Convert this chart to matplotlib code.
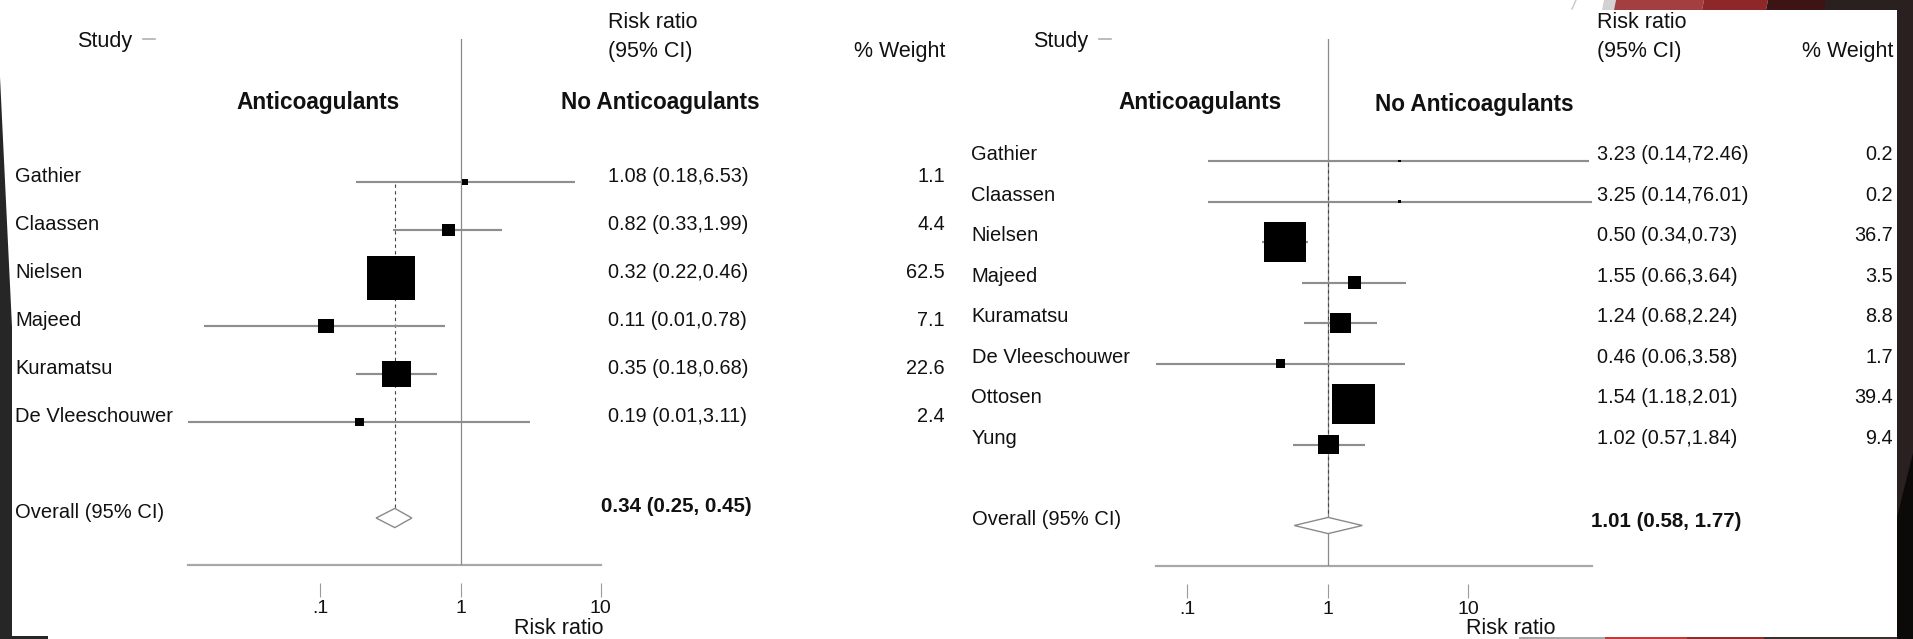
import numpy as np
import matplotlib
matplotlib.use("Agg")
import matplotlib.pyplot as plt
from matplotlib.path import Path
from matplotlib.patches import Polygon
from matplotlib.lines import Line2D
from matplotlib.ticker import NullLocator
from matplotlib import transforms

plt.rcParams['font.family'] = ['Liberation Sans', 'DejaVu Sans']

# ---------------- data ----------------
TICKS = [0.1, 1, 10]
TICK_LABELS = [".1", "1", "10"]

left_studies = ["Gathier", "Claassen", "Nielsen", "Majeed", "Kuramatsu", "De Vleeschouwer"]
left_rr = [1.08, 0.82, 0.32, 0.11, 0.35, 0.19]
left_lo = [0.18, 0.33, 0.22, 0.0148, 0.18, 0.0113]
left_hi = [6.53, 1.99, 0.46, 0.78, 0.68, 3.11]
left_weight = [1.1, 4.4, 62.5, 7.1, 22.6, 2.4]
left_overall = [0.34, 0.25, 0.45]

right_studies = ["Gathier", "Claassen", "Nielsen", "Majeed", "Kuramatsu",
                 "De Vleeschouwer", "Ottosen", "Yung"]
right_rr = [3.23, 3.25, 0.50, 1.55, 1.24, 0.46, 1.54, 1.02]
right_lo = [0.14, 0.14, 0.34, 0.66, 0.68, 0.06, 1.18, 0.57]
right_hi = [72.46, 76.01, 0.73, 3.64, 2.24, 3.58, 2.01, 1.84]
right_weight = [0.2, 0.2, 36.7, 3.5, 8.8, 1.7, 39.4, 9.4]
right_overall = [1.01, 0.58, 1.77]

# ---------------- figure ----------------
W, H = 1913, 639
fig = plt.figure(figsize=(W / 100, H / 100), dpi=100)
fig.patch.set_facecolor("white")


def fx(px):
    return px / W


def fy(py):
    return 1 - py / H


def P(x, y):
    return (fx(x), fy(y))


PT = 0.72  # points per pixel at 100 dpi
TXT = "#111111"
GREY_CI = "#8e8e8e"


def draw_panel(g, studies, rr, lo, hi, weight, overall):
    xmin = min(min(lo), min(TICKS))
    xmax = max(max(hi), max(TICKS))
    px_lo = g["x_one"] + g["ppd"] * np.log10(xmin)
    px_hi = g["x_one"] + g["ppd"] * np.log10(xmax)
    n = len(studies)
    rows = np.arange(n)
    y_over = n + 1
    y_top = (g["top"] - g["row0"]) / g["step"]
    y_bot = (g["bottom"] - g["row0"]) / g["step"]

    ax = fig.add_axes([fx(px_lo), fy(g["bottom"]), fx(px_hi) - fx(px_lo),
                       (g["bottom"] - g["top"]) / H])
    ax.set_xscale("log")
    ax.set_xlim(xmin, xmax)
    ax.set_ylim(y_bot, y_top)
    ax.patch.set_visible(False)
    for s in ["top", "right", "left", "bottom"]:
        ax.spines[s].set_visible(False)
    ax.spines["bottom"].set_position(("outward", 18 * PT))
    ax.set_yticks([])
    ax.set_xticks(TICKS)
    ax.set_xticklabels(TICK_LABELS)
    ax.xaxis.set_minor_locator(NullLocator())
    ax.tick_params(axis="x", direction="out", length=14 * PT, width=0.8,
                   color="#9a9a9a", pad=3 * PT, labelsize=14, labelcolor=TXT)

    # horizontal axis line and line of no effect
    ax.axhline(y_bot, color="#a8a8a8", lw=2.2 * PT, clip_on=False, zorder=1)
    ax.axvline(1, color="#8a8a8a", lw=0.9, zorder=1)

    # pooled estimate reference line
    est, o_lo, o_hi = overall
    ax.plot([est, est], [0.05, y_over - 0.2], color="#444444", lw=0.8,
            ls=(0, (3, 3)), zorder=1)

    # confidence intervals
    ax.hlines(rows, lo, hi, color=GREY_CI, lw=1.55, zorder=2)

    # weighted boxes
    bw, bh = g["box_w"], g["box_h"]
    box = Path([(-bw / 2, -bh / 2), (bw / 2, -bh / 2), (bw / 2, bh / 2),
                (-bw / 2, bh / 2), (-bw / 2, -bh / 2)],
               [Path.MOVETO, Path.LINETO, Path.LINETO, Path.LINETO, Path.CLOSEPOLY])
    side_px = max(bw, bh) * np.sqrt(np.asarray(weight))
    ax.scatter(rr, rows, s=(side_px * PT) ** 2, marker=box, c="black",
               linewidths=0, zorder=3)

    # pooled diamond
    dh = 0.2
    ax.add_patch(Polygon([(o_lo, y_over), (est, y_over - dh), (o_hi, y_over),
                          (est, y_over + dh)], closed=True, facecolor="white",
                         edgecolor="#8a8a8a", lw=1.0, zorder=3))

    # text columns
    tr = transforms.blended_transform_factory(fig.transFigure, ax.transData)
    dy = g["txt_dy"]
    for i, name in enumerate(studies):
        ax.text(fx(g["label_x"]), i - dy, name, transform=tr, ha="left",
                va="center", fontsize=14.5, color=TXT)
        ax.text(fx(g["ci_x"]), i - dy, f"{rr[i]:.2f} ({lo[i]:.2f},{hi[i]:.2f})",
                transform=tr, ha="left", va="center", fontsize=14.3, color=TXT)
        ax.text(fx(g["wt_x"]), i - dy, f"{weight[i]:.1f}", transform=tr,
                ha="right", va="center", fontsize=14.3, color=TXT)
    ax.text(fx(g["label_x"]), y_over - dy, "Overall (95% CI)", transform=tr,
            ha="left", va="center", fontsize=14.5, color=TXT)
    ax.text(fx(g["oci_x"]), y_over - g["oci_dy"],
            f"{est:.2f} ({o_lo:.2f}, {o_hi:.2f})", transform=tr, ha="left",
            va="center", fontsize=14.8, fontweight="bold", color=TXT)

    # column headings
    fig.text(fx(g["study_x"]), fy(42), "Study", ha="left", va="center",
             fontsize=15.5, color=TXT)
    fig.add_artist(Line2D([fx(g["study_x"] + 66), fx(g["study_x"] + 78)],
                          [fy(39), fy(39)], color="#b0b0b0", lw=1.2))
    fig.text(fx(g["ci_x"]), fy(23), "Risk ratio", ha="left", va="center",
             fontsize=15.5, color=TXT)
    fig.text(fx(g["ci_x"]), fy(51), "(95% CI)", ha="left", va="center",
             fontsize=15.5, color=TXT)
    fig.text(fx(g["wt_x"]), fy(51), "% Weight", ha="right", va="center",
             fontsize=15.5, color=TXT)
    fig.text(fx(g["grp1_x"]), fy(g["grp1_y"]), "Anticoagulants", ha="center",
             va="center", fontsize=16.3, fontweight="bold", color=TXT)
    fig.text(fx(g["grp2_x"]), fy(g["grp2_y"]), "No Anticoagulants", ha="center",
             va="center", fontsize=16.3, fontweight="bold", color=TXT)
    fig.text(fx(g["xlab_x"]), fy(628), "Risk ratio", ha="center", va="center",
             fontsize=15.5, color=TXT)
    return ax


left_geom = dict(x_one=460.5, ppd=140.2, row0=182, step=48, top=39, bottom=565,
                 box_w=6.07, box_h=5.45, txt_dy=0.125, label_x=15, ci_x=608,
                 wt_x=945, oci_x=601, oci_dy=0.25, study_x=77, grp1_x=318,
                 grp1_y=103, grp2_x=660, grp2_y=103, xlab_x=559)
right_geom = dict(x_one=1327.5, ppd=140.5, row0=161, step=40.5, top=39, bottom=566,
                  box_w=6.85, box_h=6.5, txt_dy=0.16, label_x=971.5, ci_x=1597,
                  wt_x=1893, oci_x=1591, oci_dy=0.09, study_x=1033, grp1_x=1200,
                  grp1_y=102, grp2_x=1474, grp2_y=105, xlab_x=1511)

draw_panel(left_geom, left_studies, left_rr, left_lo, left_hi, left_weight, left_overall)
draw_panel(right_geom, right_studies, right_rr, right_lo, right_hi, right_weight, right_overall)


# ---------------- slide frame around the figure ----------------
def band(xy, color):
    fig.add_artist(Polygon([P(x, y) for x, y in xy], closed=True, facecolor=color,
                           edgecolor="none", transform=fig.transFigure, zorder=5))


# left edge
band([(0, 77), (12, 327), (12, 639), (0, 639)], "#262626")
band([(12, 635.5), (48, 635.5), (48, 639), (12, 639)], "#262626")
# right edge
band([(1897, 0), (1913, 0), (1913, 639), (1897, 639)], "#2a2020")
band([(1897, 517), (1913, 453), (1913, 639), (1897, 639)], "#0c0a09")
# top ribbon
band([(1604, 0), (1616, 0), (1614, 10), (1602, 10)], "#d2d2d2")
band([(1616, 0), (1704, 0), (1702, 10), (1614, 10)], "#a43f3f")
band([(1704, 0), (1768, 0), (1766, 10), (1702, 10)], "#8e2828")
band([(1768, 0), (1825, 0), (1825, 10), (1766, 10)], "#3c1414")
band([(1825, 0), (1897, 0), (1897, 10), (1825, 10)], "#2a2020")
fig.add_artist(Line2D([fx(1576), fx(1572)], [fy(0), fy(9)], color="#c8c8c8",
                      lw=1.0, transform=fig.transFigure, zorder=5))
# bottom ribbon
band([(1519, 637), (1605, 637), (1605, 639), (1519, 639)], "#a8a8a8")
band([(1605, 637), (1687, 637), (1687, 639), (1605, 639)], "#c23b3b")
band([(1687, 637), (1764, 637), (1764, 639), (1687, 639)], "#8f2c2c")
band([(1764, 637), (1897, 637), (1897, 639), (1764, 639)], "#3a3030")

fig.savefig("out.png", dpi=100, facecolor="white")
